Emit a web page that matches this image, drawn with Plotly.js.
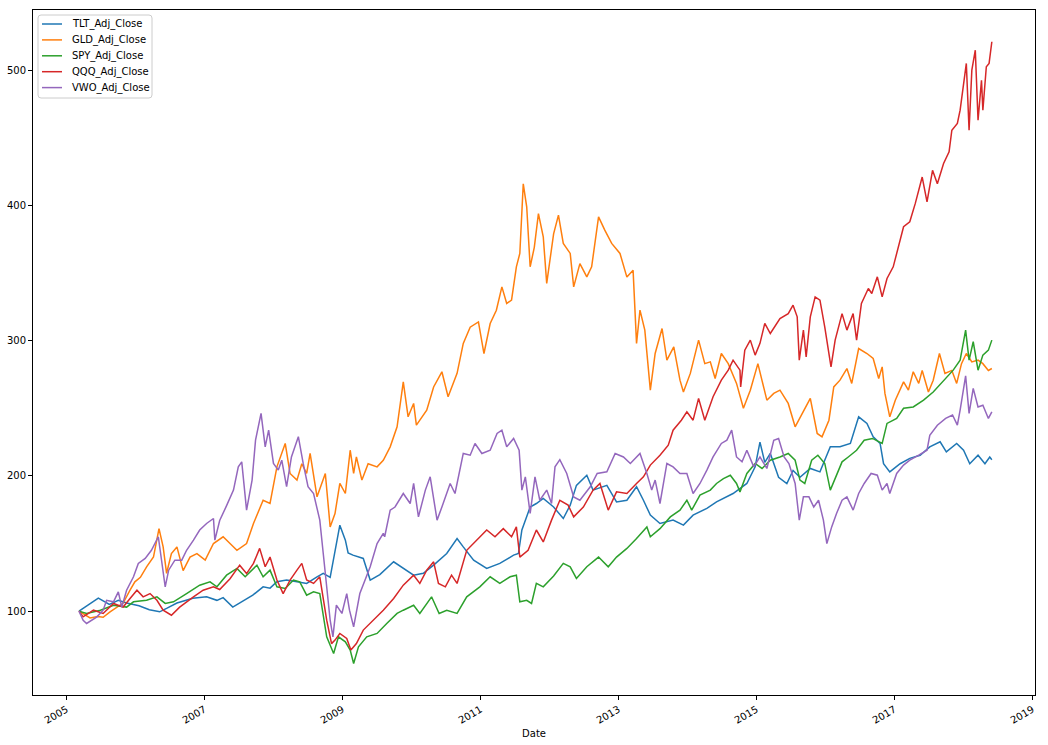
<!DOCTYPE html>
<html>
<head>
<meta charset="utf-8">
<script src="https://cdn.plot.ly/plotly-3.0.1.min.js"></script>
<style>html,body{margin:0;padding:0;background:#fff;}#chart{width:1048px;height:745px;}</style>
</head>
<body>
<div id="chart"></div>
<script>
// Dates are decimal years; values are read from the y-axis.
const tltYears = [2005.18,2005.30,2005.46,2005.62,2005.75,2005.87,2006.05,2006.20,2006.35,2006.45,2006.60,2006.83,2007.03,2007.18,2007.27,2007.41,2007.51,2007.70,2007.85,2007.95,2008.05,2008.19,2008.34,2008.48,2008.63,2008.72,2008.82,2008.89,2008.96,2009.04,2009.08,2009.15,2009.30,2009.40,2009.54,2009.74,2009.88,2010.03,2010.17,2010.32,2010.51,2010.66,2010.75,2010.90,2011.09,2011.28,2011.48,2011.55,2011.60,2011.72,2011.81,2011.91,2012.06,2012.20,2012.30,2012.39,2012.54,2012.63,2012.83,2012.97,2013.12,2013.26,2013.36,2013.46,2013.60,2013.79,2013.94,2014.08,2014.28,2014.42,2014.66,2014.86,2014.98,2015.05,2015.12,2015.20,2015.32,2015.44,2015.53,2015.63,2015.78,2015.92,2016.07,2016.21,2016.36,2016.48,2016.60,2016.69,2016.79,2016.84,2016.93,2017.08,2017.22,2017.37,2017.51,2017.66,2017.75,2017.90,2018.00,2018.09,2018.21,2018.31,2018.38,2018.41];
const tltVals = [100,104,109.6,105,108,106,104,101,99.5,102,106,109.6,110.6,108,110,103,106,111.8,118,117,121.7,123,121.7,120.5,125.4,128,125,143,163.6,152.5,143,141.4,139,123,127,136.5,131.8,126.6,128,134,142.6,153.7,147.5,137.7,131.6,135.3,141.4,142.6,160,177,179.6,183.3,177,168.5,178.4,193,200.5,189.5,193,180.8,182,192,182,171,164.8,167.3,163.6,171,176,180.8,187,194.4,206.7,225,210,216.6,199,194.4,204,199,205.5,203,221.5,221.5,224,243.7,238.8,228.9,224,209,203,209,213,215.3,221.5,225.2,217.8,224,219,209,215.3,209,214,212];

const gldYears = [2005.18,2005.34,2005.45,2005.53,2005.63,2005.82,2005.92,2005.99,2006.07,2006.16,2006.26,2006.34,2006.40,2006.45,2006.52,2006.60,2006.69,2006.79,2006.89,2007.01,2007.13,2007.27,2007.37,2007.47,2007.61,2007.71,2007.85,2007.95,2008.05,2008.17,2008.24,2008.34,2008.41,2008.48,2008.53,2008.63,2008.75,2008.82,2008.89,2008.96,2009.04,2009.11,2009.16,2009.20,2009.28,2009.37,2009.50,2009.59,2009.69,2009.79,2009.88,2009.95,2010.03,2010.07,2010.22,2010.32,2010.44,2010.53,2010.66,2010.75,2010.85,2010.97,2011.05,2011.14,2011.23,2011.31,2011.38,2011.45,2011.52,2011.57,2011.62,2011.67,2011.72,2011.78,2011.84,2011.91,2011.96,2012.06,2012.13,2012.20,2012.30,2012.35,2012.44,2012.54,2012.61,2012.71,2012.80,2012.90,2013.02,2013.12,2013.21,2013.26,2013.31,2013.38,2013.46,2013.53,2013.63,2013.70,2013.80,2013.89,2013.94,2014.04,2014.16,2014.25,2014.33,2014.40,2014.49,2014.59,2014.71,2014.81,2014.91,2015.02,2015.15,2015.25,2015.34,2015.46,2015.56,2015.66,2015.78,2015.88,2015.95,2016.05,2016.12,2016.21,2016.31,2016.38,2016.48,2016.60,2016.69,2016.77,2016.82,2016.86,2016.93,2017.01,2017.13,2017.20,2017.27,2017.35,2017.40,2017.49,2017.56,2017.65,2017.73,2017.83,2017.90,2017.97,2018.04,2018.12,2018.21,2018.28,2018.36,2018.41];
const gldVals = [100,95,96,95.5,99.5,106,115.5,121.7,125,132.8,140,161,147.5,128,142.6,147.5,130,140,142.6,137.7,150,155,150,145,150,164.8,182,179.6,206.7,224,201.8,196.9,209,201.8,216.6,184.5,201.8,162.3,172.2,194.4,187,219,201.8,214,196.9,209,206.7,211.6,221.5,236.3,269.5,243.7,253.6,237.5,248.6,265.8,277,258.5,275.8,298,310,313.9,290.5,312.7,322.5,339.8,327.5,330,354.6,364.5,416,399,354.6,369,394,376.8,342.4,379,392.8,371.9,364.5,339.8,357,347.2,354.6,391.5,381.7,371.9,364.5,347,352,298,322.6,307.8,263.4,290.5,309,285.6,295.4,270.8,262,275.8,300.4,283,284.3,272,290.5,283,268.4,250,263.4,283,256,261,263.4,253.6,236.3,246,257.3,231.4,228.9,241.2,265.8,270.8,279.4,268.4,294.2,290.5,286.8,272,280.6,261,243.7,256,269.5,263.4,277,268.4,278,262,270.8,290.5,275.8,278,268.4,283,290.5,284.3,285.6,283,278,279.4];

const spyYears = [2005.18,2005.29,2005.49,2005.68,2005.87,2005.97,2006.16,2006.31,2006.43,2006.55,2006.74,2006.93,2007.08,2007.18,2007.32,2007.47,2007.59,2007.76,2007.85,2007.95,2008.05,2008.17,2008.29,2008.38,2008.48,2008.58,2008.67,2008.72,2008.77,2008.87,2008.94,2009.04,2009.11,2009.16,2009.23,2009.35,2009.50,2009.64,2009.79,2009.88,2010.03,2010.12,2010.29,2010.40,2010.51,2010.66,2010.80,2010.99,2011.14,2011.28,2011.43,2011.52,2011.57,2011.67,2011.74,2011.81,2011.91,2012.06,2012.20,2012.30,2012.39,2012.54,2012.71,2012.85,2012.97,2013.12,2013.26,2013.41,2013.46,2013.60,2013.75,2013.89,2013.99,2014.06,2014.18,2014.33,2014.42,2014.52,2014.62,2014.71,2014.76,2014.86,2014.98,2015.08,2015.20,2015.34,2015.46,2015.56,2015.63,2015.70,2015.80,2015.89,2015.99,2016.07,2016.14,2016.24,2016.33,2016.45,2016.56,2016.68,2016.82,2016.89,2017.03,2017.13,2017.27,2017.42,2017.56,2017.71,2017.85,2017.95,2018.03,2018.08,2018.14,2018.21,2018.28,2018.36,2018.41];
const spyVals = [100,98.3,100.7,104.4,103,106.9,108,110.6,105.7,106.9,113,119.2,121.7,118,126.6,131.6,125.4,134,125.4,130.3,118,116.8,123,121.7,111.8,114.3,113,98.3,81,68.7,81,77.3,71.2,61.3,73.6,81,83.5,90.9,98.3,100.7,104.4,98.3,110.6,98.3,100.7,98.3,110.6,118,125.4,120.5,125.4,126.6,106.9,108,105.7,120.5,118,126,135.3,132.8,124.2,132.8,140,132.8,140,146.4,153.7,162.3,155,161,169.7,174.7,182,174.7,185.8,189.5,194.4,198,200.5,194.4,188.2,201.8,209.2,205.5,211.6,214,216.6,211.6,196.9,194.4,211.6,215.3,209.2,189.5,198,210.4,214,219,226.4,227.7,224,238.8,242.5,250,251,256,262,270.8,278.2,285.6,307.8,285.6,299.2,278.2,289.3,293,300.4];

const qqqYears = [2005.18,2005.24,2005.39,2005.53,2005.68,2005.82,2005.92,2006.02,2006.11,2006.21,2006.31,2006.40,2006.52,2006.64,2006.84,2006.98,2007.13,2007.22,2007.37,2007.51,2007.61,2007.71,2007.80,2007.88,2007.95,2008.05,2008.14,2008.24,2008.34,2008.41,2008.48,2008.58,2008.67,2008.72,2008.77,2008.84,2008.89,2008.96,2009.06,2009.12,2009.20,2009.30,2009.45,2009.59,2009.74,2009.83,2009.88,2010.03,2010.12,2010.22,2010.32,2010.39,2010.49,2010.58,2010.66,2010.80,2010.95,2011.09,2011.21,2011.33,2011.45,2011.52,2011.57,2011.69,2011.81,2011.91,2012.03,2012.15,2012.27,2012.35,2012.49,2012.63,2012.73,2012.85,2012.97,2013.12,2013.26,2013.36,2013.46,2013.53,2013.60,2013.72,2013.79,2013.91,2013.99,2014.08,2014.16,2014.25,2014.37,2014.49,2014.59,2014.66,2014.76,2014.77,2014.83,2014.91,2014.98,2015.05,2015.12,2015.20,2015.34,2015.46,2015.53,2015.59,2015.62,2015.68,2015.72,2015.78,2015.85,2015.92,2015.99,2016.08,2016.14,2016.24,2016.31,2016.40,2016.45,2016.52,2016.62,2016.67,2016.75,2016.82,2016.89,2016.98,2017.05,2017.13,2017.22,2017.30,2017.40,2017.47,2017.55,2017.62,2017.71,2017.79,2017.83,2017.91,2017.95,2018.00,2018.04,2018.08,2018.12,2018.17,2018.21,2018.26,2018.28,2018.33,2018.37,2018.41];
const qqqVals = [100,95.8,100.7,98.3,105.7,103,109.4,115.5,110.6,113,108,100.7,97,103,110.6,115.5,118,116,124,134,127.8,135.3,146.4,132.8,140,123,113,123,130.3,135.3,123,120.5,125.4,110.6,93.3,76,78.6,83.5,79.8,71.2,76,86,93.3,100.7,109.4,115.5,119.2,126.6,120.5,130.3,136.5,120.5,118,126.6,120.5,145,152.5,160,155,161,155,162.3,140,145,160,151.2,167.3,182,178.4,169.7,177,189.5,194.4,174.7,188.2,187,194.4,199.3,208,211.6,215.3,222.7,233.8,241.2,247.4,241.2,257.3,241.2,258.5,270.8,278.2,285.6,278.2,265.8,293,300.4,289.3,298,312.8,305.3,316.4,320,326.2,317.6,285.6,307.8,288,317.6,332.4,330,310,280.6,300.4,320,307.8,320,300.4,327.5,338.6,334.9,347.2,332.4,346,354.6,369.4,384.2,387.9,401.5,421,402.7,426,416,431,439.6,455.6,460.6,470.4,487.7,505,455.6,500,514.8,463,492.5,470.4,502.5,505,521];

const vwoYears = [2005.18,2005.24,2005.29,2005.44,2005.53,2005.58,2005.68,2005.75,2005.80,2005.87,2005.97,2006.04,2006.14,2006.23,2006.33,2006.38,2006.43,2006.48,2006.57,2006.67,2006.74,2006.84,2006.93,2007.03,2007.13,2007.15,2007.22,2007.32,2007.42,2007.49,2007.54,2007.61,2007.69,2007.74,2007.82,2007.88,2007.93,2008.00,2008.07,2008.12,2008.19,2008.26,2008.36,2008.43,2008.50,2008.58,2008.67,2008.72,2008.77,2008.82,2008.86,2008.91,2008.99,2009.06,2009.10,2009.16,2009.25,2009.40,2009.50,2009.59,2009.61,2009.69,2009.76,2009.88,2009.98,2010.03,2010.10,2010.20,2010.27,2010.37,2010.44,2010.56,2010.63,2010.75,2010.85,2010.92,2011.02,2011.14,2011.24,2011.31,2011.38,2011.48,2011.56,2011.60,2011.65,2011.72,2011.79,2011.86,2011.96,2012.03,2012.08,2012.15,2012.25,2012.35,2012.44,2012.59,2012.69,2012.83,2012.95,2013.07,2013.17,2013.31,2013.41,2013.48,2013.53,2013.60,2013.70,2013.79,2013.89,2013.99,2014.08,2014.18,2014.28,2014.37,2014.49,2014.57,2014.64,2014.71,2014.79,2014.86,2014.96,2015.05,2015.15,2015.25,2015.32,2015.40,2015.47,2015.56,2015.62,2015.68,2015.76,2015.83,2015.90,2015.97,2016.02,2016.09,2016.16,2016.24,2016.31,2016.40,2016.48,2016.56,2016.66,2016.75,2016.82,2016.89,2016.93,2017.03,2017.13,2017.22,2017.35,2017.47,2017.51,2017.62,2017.74,2017.84,2017.91,2017.95,2018.03,2018.08,2018.14,2018.21,2018.28,2018.36,2018.41];
const vwoVals = [100,93.3,90.9,95.8,100.7,108,106.9,114.3,103,115.5,125.4,135.3,139,145,155,135.3,118,130.3,137.7,137.7,145,152.5,160,164.8,168.5,152.5,167,178,189.5,206.7,210.4,174.7,196.9,226.4,246.2,221.5,233.8,209.2,204.3,211.6,192,214,229,209.2,192,187,167.3,142.6,118,93.3,81,104.4,98.3,113,100.7,88.4,113,132.8,150,157.5,155,174.7,177,187,179.6,194.4,169.7,189.5,199.3,167.3,177,194.4,187,216.6,215.3,224,216.6,219,231.4,233.8,221.5,227.7,219,189.5,199.3,172.2,199.3,182,189.5,179.6,206.7,212,201.8,184.5,182,192,201.8,203,216.6,214,209.2,216.6,201.8,189.5,196.9,179.6,209.2,206.7,201.8,201.8,187,194.4,204.3,214,224,226.4,233.8,214,210.4,219,206.7,214,205.5,226.4,227.7,214,209.2,194.4,167.3,184.5,184.5,177,182,167.3,150,162.3,172.2,182,184.5,174.7,187,194.4,201.8,200.5,189.5,194.4,187,201.8,208,211.6,215.3,219,230,237.5,242.5,245,237.5,248.6,274,246.2,264.7,251,252.3,242.5,247.4];

const seriesNames = ['TLT_Adj_Close','GLD_Adj_Close','SPY_Adj_Close','QQQ_Adj_Close','VWO_Adj_Close'];
const seriesColors = ['#1f77b4','#ff7f0e','#2ca02c','#d62728','#9467bd'];
const xTickYears = [2005,2007,2009,2011,2013,2015,2017,2019];
const yTickVals = [100,200,300,400,500];

function yearToDate(y) {
  const yr = Math.floor(y);
  const a = Date.UTC(yr, 0, 1), b = Date.UTC(yr + 1, 0, 1);
  return new Date(a + (y - yr) * (b - a)).toISOString().slice(0, 19).replace('T', ' ');
}

const xs = [tltYears, gldYears, spyYears, qqqYears, vwoYears];
const ys = [tltVals, gldVals, spyVals, qqqVals, vwoVals];

const traces = seriesNames.map((n, i) => ({
  type: 'scatter', mode: 'lines', name: n,
  x: xs[i].map(yearToDate), y: ys[i],
  line: {color: seriesColors[i], width: 1.5}
}));

// plot-area geometry (pixels) used for the legend box placed in paper coordinates
const W = 1048, H = 745, M = {l: 33, r: 13, t: 10, b: 50};
const PW = W - M.l - M.r, PH = H - M.t - M.b;
const px = v => (v - M.l) / PW;
const py = v => (H - M.b - v) / PH;

const legBox = {x0: 38, x1: 152, y0: 15, y1: 98, r: 3};
const legRow0 = 24, legRowStep = 15.9;

function roundRectPath(b) {
  const r = b.r;
  const X = v => px(v), Y = v => py(v);
  return `M ${X(b.x0 + r)},${Y(b.y0)} L ${X(b.x1 - r)},${Y(b.y0)} Q ${X(b.x1)},${Y(b.y0)} ${X(b.x1)},${Y(b.y0 + r)} ` +
    `L ${X(b.x1)},${Y(b.y1 - r)} Q ${X(b.x1)},${Y(b.y1)} ${X(b.x1 - r)},${Y(b.y1)} ` +
    `L ${X(b.x0 + r)},${Y(b.y1)} Q ${X(b.x0)},${Y(b.y1)} ${X(b.x0)},${Y(b.y1 - r)} ` +
    `L ${X(b.x0)},${Y(b.y0 + r)} Q ${X(b.x0)},${Y(b.y0)} ${X(b.x0 + r)},${Y(b.y0)} Z`;
}

const shapes = [{
  type: 'path', xref: 'paper', yref: 'paper', path: roundRectPath(legBox),
  line: {color: '#cccccc', width: 1}, fillcolor: 'rgba(255,255,255,0.8)', layer: 'above'
}];
const annotations = [];
seriesNames.forEach((n, i) => {
  const yy = legRow0 + i * legRowStep;
  shapes.push({type: 'line', xref: 'paper', yref: 'paper',
    x0: px(42), x1: px(62), y0: py(yy), y1: py(yy),
    line: {color: seriesColors[i], width: 1.5}, layer: 'above'});
  annotations.push({xref: 'paper', yref: 'paper', x: px(70), y: py(yy),
    xanchor: 'left', yanchor: 'middle', showarrow: false, text: n,
    font: {family: 'DejaVu Sans, sans-serif', size: 10, color: '#000'}});
});

const font = {family: 'DejaVu Sans, sans-serif', size: 10, color: '#000'};
const layout = {
  width: W, height: H,
  margin: M,
  paper_bgcolor: '#fff', plot_bgcolor: '#fff',
  font: font,
  showlegend: false,
  shapes: shapes,
  annotations: annotations,
  xaxis: {
    type: 'date',
    range: [yearToDate(2004.514), yearToDate(2019.036)],
    tickvals: xTickYears.map(y => yearToDate(y)),
    ticktext: xTickYears.map(String),
    tickangle: -30,
    ticks: 'outside', ticklen: 4, tickcolor: '#000', tickwidth: 1,
    showline: true, linecolor: '#000', linewidth: 1, mirror: true,
    showgrid: false, zeroline: false,
    title: {text: 'Date', font: font, standoff: 5},
    tickfont: font
  },
  yaxis: {
    range: [38, 544.5],
    tickvals: yTickVals,
    ticks: 'outside', ticklen: 4, tickcolor: '#000', tickwidth: 1,
    showline: true, linecolor: '#000', linewidth: 1, mirror: true,
    showgrid: false, zeroline: false,
    tickfont: font
  }
};

Plotly.newPlot('chart', traces, layout, {displayModeBar: false, staticPlot: true});
</script>
</body>
</html>
